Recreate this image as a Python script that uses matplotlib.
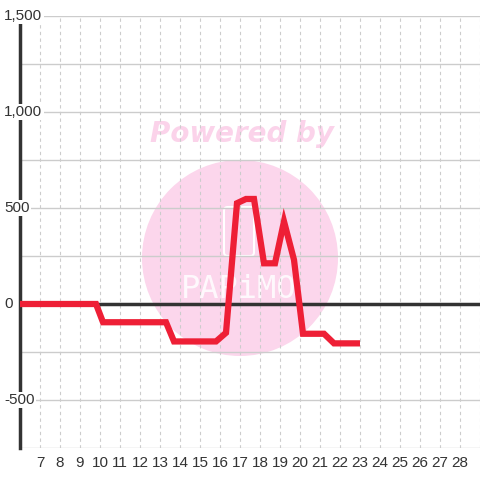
import matplotlib.pyplot as plt
from matplotlib.patches import Circle, FancyBboxPatch
import matplotlib.transforms as mtrans

# Data
days = [6, 9.8, 10.15, 13.3, 13.7, 15.8, 16.3, 16.85, 17.3, 17.7, 18.2,
        18.75, 19.2, 19.7, 20.15, 21.2, 21.7, 23]
values = [0, 0, -95, -95, -195, -195, -150, 525, 547, 547, 212,
          212, 430, 230, -155, -155, -205, -205]
x_ticks = list(range(7, 29))
y_ticks = [-500, 0, 500, 1000, 1500]
y_labels = ['-500', '0', '500', '1,000', '1,500']
y_grid = [-750, -500, -250, 0, 250, 500, 750, 1000, 1250, 1500]

plt.rcParams['font.family'] = ['Liberation Sans', 'DejaVu Sans']

fig = plt.figure(figsize=(4.8, 4.8), dpi=100)
ax = fig.add_axes([20 / 480, 32 / 480, 460 / 480, 432 / 480])
ax.set_xlim(6, 29)
ax.set_ylim(-750, 1500)

# Watermark behind the grid (figure coords, y from bottom)
ftr = fig.transFigure
ax.add_patch(Circle((240 / 480, 222 / 480), 98 / 480, transform=ftr,
                    facecolor='#FCD6EC', edgecolor='none', zorder=0,
                    clip_on=False))
ax.add_patch(FancyBboxPatch((224 / 480, 224 / 480), 30 / 480, 49 / 480,
                            boxstyle='round,pad=0,rounding_size=0.008',
                            transform=ftr, facecolor='none', clip_on=False,
                            edgecolor='white', lw=1.5, zorder=0.5))
ax.text(239 / 480, 191 / 480, 'PAPiMO', color='white', fontsize=23,
        family='DejaVu Sans Mono', ha='center', va='center', alpha=0.85,
        transform=ftr, zorder=0.5, clip_on=False)
ax.text(242 / 480, 346 / 480, 'Powered by', color='#FBD3EA', fontsize=20,
        fontweight='bold', fontstyle='italic', family='DejaVu Sans',
        ha='center', va='center', transform=ftr, zorder=0.5, clip_on=False)

# Grid
for g in y_grid:
    ax.axhline(g, color='#cccccc', lw=1, zorder=1)
for t in x_ticks + [29]:
    ax.axvline(t, color='#cccccc', lw=0.8, ls=(0, (3, 3)), zorder=1)

ax.axhline(0, color='#333333', lw=2.5, zorder=2)
ax.plot(days, values, color='#EE1F36', lw=4.5, solid_capstyle='butt',
        solid_joinstyle='miter', zorder=3)

for s in ['top', 'right', 'bottom']:
    ax.spines[s].set_visible(False)
ax.spines['left'].set_color('#333333')
ax.spines['left'].set_linewidth(2.5)
ax.spines['left'].set_bounds(-750, 1458)
ax.spines['left'].set_zorder(2)

ax.set_xticks(x_ticks)
ax.tick_params(axis='x', length=0, labelsize=11, labelcolor='#333333', pad=6)
ax.set_yticks([])

trans = mtrans.blended_transform_factory(fig.transFigure, ax.transData)
for v, lab in zip(y_ticks, y_labels):
    ax.text(4 / 480, v, lab, transform=trans, ha='left', va='center',
            fontsize=11, color='#333333', zorder=5, clip_on=False,
            bbox=dict(facecolor='white', edgecolor='none', pad=1))

fig.savefig('out.png', dpi=100)
